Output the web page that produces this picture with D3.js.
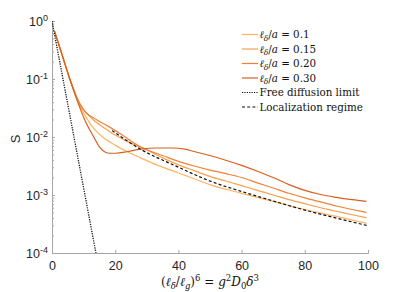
<!DOCTYPE html>
<html><head><meta charset="utf-8">
<script src="https://cdn.jsdelivr.net/npm/d3@7"></script>
<style>body{margin:0;background:#fff}svg{display:block}</style>
</head><body>
<svg id="c" width="407" height="292"></svg>
<script>
// ---- data ----
const xTicks = [0, 20, 40, 60, 80, 100];
const yTickExps = [0, -1, -2, -3, -4];
const seriesLabels = ["0.1", "0.15", "0.20", "0.30"];
const seriesColors = ["#fdb462", "#f9a04e", "#ee8136", "#d8601f"];

const x010 = [0.8,3,5.5,7.5,9,11,13,16,20,24,28,35,40,45,50,60,70,80,90,99.5];
const s010 = [0.661,0.282,0.105,0.0525,0.0331,0.0209,0.0145,0.0100,0.00724,0.00550,0.00437,0.00302,0.00240,0.00191,0.00151,0.00107,0.000776,0.000562,0.000427,0.000324];

const x015 = [0.8,3,5.5,7.5,9,10,13,18,24,31,35,40,45,50,55,60,65,70,75,80,85,90,95,99.5];
const s015 = [0.661,0.282,0.105,0.0525,0.0363,0.0295,0.0200,0.0126,0.00832,0.00562,0.00437,0.00331,0.00263,0.00209,0.00174,0.00145,0.00120,0.00100,0.000832,0.000708,0.000603,0.000525,0.000457,0.000407];

const x020 = [0.8,3,5.5,7.5,9,11,14,18,22,25,28,31,35,40,45,50,55,60,65,70,75,80,85,90,95,99.5];
const s020 = [0.661,0.282,0.105,0.0537,0.0355,0.0257,0.0200,0.0151,0.0110,0.00851,0.00676,0.00575,0.00479,0.00380,0.00316,0.00269,0.00234,0.00200,0.00162,0.00132,0.00107,0.000891,0.000759,0.000646,0.000562,0.000501];

const x030 = [0.8,3,5.5,7.5,10.4,13,15,16.5,18,20,24,28,33,38,42,45,50,55,60,65,70,75,80,85,90,95,99.5];
const s030 = [0.661,0.282,0.105,0.0501,0.0195,0.0105,0.00676,0.00562,0.00525,0.00525,0.00562,0.00617,0.00646,0.00646,0.00617,0.00562,0.00479,0.00398,0.00324,0.00257,0.00200,0.00151,0.00120,0.00102,0.000912,0.000832,0.000776];

const xFree = [0, 13.9];
const sFree = [1, 0.0001];

const xLoc = [19,28,40,50,60,70,80,90,100];
const sLoc = [0.0129,0.00617,0.00302,0.00174,0.00115,0.00079,0.00055,0.00040,0.000295];

// ---- layout ----
const svg = d3.select("#c");
const L = 52, R = 368, T = 21, B = 253;
const x = d3.scaleLinear().domain([0, 100]).range([L, R]);
const y = d3.scaleLog().domain([1e-4, 1]).range([B, T]);
const sans = "'Liberation Sans', Arial, sans-serif";
const serif = "'DejaVu Serif', 'Liberation Serif', serif";
const axisCol = "#a6a6a6", textCol = "#262626";

svg.append("defs").append("clipPath").attr("id","clip")
  .append("rect").attr("x",L).attr("y",T).attr("width",R-L).attr("height",B-T);

// axes
const gx = svg.append("g").attr("transform",`translate(0,${B})`)
  .call(d3.axisBottom(x).tickValues(xTicks).tickSize(-3).tickPadding(8).tickFormat(d3.format("d")));
const minor = [];
for (let e = -4; e < 0; e++) for (let k = 2; k < 10; k++) minor.push(k * Math.pow(10, e));
const gyMinor = svg.append("g").attr("transform",`translate(${L},0)`)
  .call(d3.axisLeft(y).tickValues(minor).tickSize(-2).tickFormat(""));
const gy = svg.append("g").attr("transform",`translate(${L},0)`)
  .call(d3.axisLeft(y).tickValues(yTickExps.map(e => Math.pow(10, e))).tickSize(-3).tickPadding(5).tickFormat(""));
[gx, gy, gyMinor].forEach(g => {
  g.select(".domain").attr("stroke", axisCol).attr("stroke-width", 1);
  g.selectAll(".tick line").attr("stroke", axisCol);
});
gx.selectAll(".tick text").attr("font-family", sans).attr("font-size", 12.5).attr("fill", textCol);
gyMinor.select(".domain").remove();

// y tick labels with superscripts
const yl = svg.append("g");
yTickExps.forEach(e => {
  const t = yl.append("text").attr("x", L - 4).attr("y", y(Math.pow(10, e)) + 4.5)
    .attr("text-anchor", "end").attr("font-family", sans).attr("font-size", 12.5).attr("fill", textCol);
  t.append("tspan").text("10");
  t.append("tspan").attr("dy", -5).attr("font-size", 9).text(String(e));
});

// y label
svg.append("text").attr("transform", `translate(20,${(T+B)/2 + 2}) rotate(-90)`)
  .attr("text-anchor","middle").attr("font-family", sans).attr("font-size", 13).attr("fill", textCol).text("S");

// x label (math)
const xl = svg.append("text").attr("x", (L+R)/2).attr("y", 286).attr("text-anchor","middle")
  .attr("font-family", serif).attr("font-size", 12).attr("fill", "#111");
xl.append("tspan").text("(");
xl.append("tspan").attr("font-style","italic").text("ℓ");
xl.append("tspan").attr("font-style","italic").attr("font-size",8.5).attr("dy",3).text("δ");
xl.append("tspan").attr("dy",-3).text("/");
xl.append("tspan").attr("font-style","italic").text("ℓ");
xl.append("tspan").attr("font-style","italic").attr("font-size",8.5).attr("dy",3).text("g");
xl.append("tspan").attr("dy",-3).text(")");
xl.append("tspan").attr("font-size",8.5).attr("dy",-5).text("6");
xl.append("tspan").attr("dy",5).text(" = ");
xl.append("tspan").attr("font-style","italic").text("g");
xl.append("tspan").attr("font-size",8.5).attr("dy",-5).text("2");
xl.append("tspan").attr("font-style","italic").attr("dy",5).text("D");
xl.append("tspan").attr("font-size",8.5).attr("dy",3).text("0");
xl.append("tspan").attr("font-style","italic").attr("dy",-3).text("δ");
xl.append("tspan").attr("font-size",8.5).attr("dy",-5).text("3");

// curves
const line = d3.line().x(d => x(d[0])).y(d => y(d[1])).curve(d3.curveMonotoneX);
const plot = svg.append("g").attr("clip-path","url(#clip)");
const series = [[x010,s010],[x015,s015],[x020,s020],[x030,s030]];
series.forEach((s, i) => {
  plot.append("path").datum(d3.zip(s[0], s[1])).attr("d", line)
    .attr("fill","none").attr("stroke", seriesColors[i]).attr("stroke-width", 1.2);
});
plot.append("path").datum(d3.zip(xFree, sFree)).attr("d", d3.line().x(d=>x(d[0])).y(d=>y(d[1])))
  .attr("fill","none").attr("stroke","#111").attr("stroke-width",1.3).attr("stroke-dasharray","1.2,1.2");
plot.append("path").datum(d3.zip(xLoc, sLoc)).attr("d", line)
  .attr("fill","none").attr("stroke","#111").attr("stroke-width",1.2).attr("stroke-dasharray","3,2.2");

// legend
const lg = svg.append("g");
const rowY = [34.5, 49, 63.5, 78, 92.5, 107];
const lx0 = 242, lx1 = 258, tx = 259.5, fs = 10.3;
seriesLabels.forEach((lab, i) => {
  lg.append("line").attr("x1",lx0).attr("x2",lx1).attr("y1",rowY[i]).attr("y2",rowY[i])
    .attr("stroke", seriesColors[i]).attr("stroke-width", 1.2);
  const t = lg.append("text").attr("x", tx).attr("y", rowY[i] + 3.8)
    .attr("font-family", serif).attr("font-size", fs).attr("fill","#111");
  t.append("tspan").attr("font-style","italic").text("ℓ");
  t.append("tspan").attr("font-style","italic").attr("font-size",7.5).attr("dy",2.5).text("δ");
  t.append("tspan").attr("dy",-2.5).text("/");
  t.append("tspan").attr("font-style","italic").text("a");
  t.append("tspan").text(" = " + lab);
});
lg.append("line").attr("x1",lx0).attr("x2",lx1).attr("y1",rowY[4]).attr("y2",rowY[4])
  .attr("stroke","#111").attr("stroke-width",1.2).attr("stroke-dasharray","1.2,1.2");
lg.append("text").attr("x",tx).attr("y",rowY[4]+3.8).attr("font-family",serif).attr("font-size",fs).attr("fill","#111").text("Free diffusion limit");
lg.append("line").attr("x1",lx0).attr("x2",lx1).attr("y1",rowY[5]).attr("y2",rowY[5])
  .attr("stroke","#111").attr("stroke-width",1.2).attr("stroke-dasharray","3,2.2");
lg.append("text").attr("x",tx).attr("y",rowY[5]+3.8).attr("font-family",serif).attr("font-size",fs).attr("fill","#111").text("Localization regime");
</script>
</body></html>
